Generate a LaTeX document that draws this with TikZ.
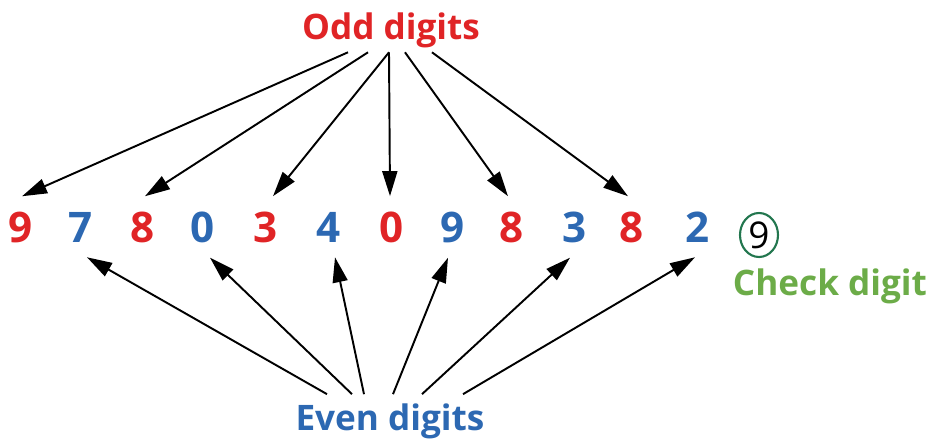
\documentclass[tikz,border=0pt]{standalone}
\usepackage{fontspec}
\setmainfont{Open Sans}
\usetikzlibrary{arrows.meta,calc,shapes.geometric}

\definecolor{oddred}{RGB}{224,36,38}
\definecolor{evenblue}{RGB}{44,104,178}
\definecolor{checkgreen}{RGB}{108,172,72}
\definecolor{ringgreen}{RGB}{34,118,78}

\tikzset{
    digit/.style={font=\fontsize{24}{28}\selectfont\bfseries, anchor=base, inner sep=8.5pt},
    label/.style={font=\fontsize{20}{24}\selectfont\bfseries, anchor=base},
    arr/.style={-{Triangle[length=0.5cm, width=0.3cm]}, line width=1.1pt}
}

\begin{document}
\begin{tikzpicture}[x=0.02cm, y=-0.02cm]
    % Khung: 930 x 439 (toa do theo pixel, y huong xuong)
    \useasboundingbox (0,0) rectangle (930,439);

    % Nhan
    \node[label, oddred, inner sep=2pt] (odd) at (391,40) {Odd digits};
    \node[label, evenblue, inner sep=5pt] (even) at (390,430) {Even digits};
    \node[label, checkgreen] (checklbl) at (830,295) {Check digit};

    % Day so
    \foreach \x/\d/\c [count=\i] in {21/9/oddred, 81/7/evenblue, 143/8/oddred, 203/0/evenblue,
        266/3/oddred, 329/4/evenblue, 392/0/oddred, 453/9/evenblue,
        512/8/oddred, 575/3/evenblue, 632/8/oddred, 698/2/evenblue}
        \node[digit, text=\c] (d\i) at (\x,242) {\d};

    % Chu so kiem tra
    \node[ellipse, draw=ringgreen, line width=1.2pt, minimum width=0.76cm, minimum height=0.88cm,
        inner sep=0pt, font=\fontsize{21}{24}\selectfont] (chk) at (759,235) {9};

    % Mui ten tu "Odd digits"
    \foreach \s/\t/\o in {-43/d1/1, -23/d3/2, -2/d5/7, -2/d7/-2, 14/d9/-4, 41/d11/-4}
        \draw[arr] ($(odd.south)+(\s,0)$) -- ($(\t.north)+(\o,0)$);

    % Mui ten tu "Even digits"
    \foreach \s/\t/\o in {-63/d2/6, -38/d4/7, -26/d6/6, 3/d8/-5, 32/d10/-5, 73/d12/-3}
        \draw[arr] ($(even.north)+(\s,0)$) -- ($(\t.south)+(\o,0)$);

\end{tikzpicture}
\end{document}
